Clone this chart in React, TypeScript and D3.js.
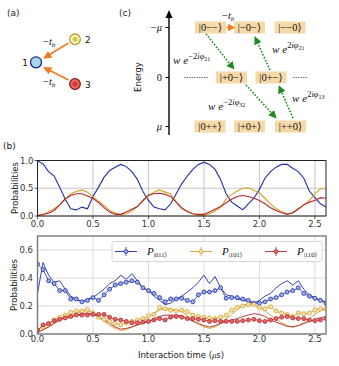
import React from "react";
import * as d3 from "d3";

const TIME = [0,0.05,0.1,0.15,0.2,0.25,0.3,0.35,0.4,0.45,0.5,0.55,0.6,0.65,0.7,0.75,0.8,0.85,0.9,0.95,1.0,1.05,1.1,1.15,1.2,1.25,1.3,1.35,1.4,1.45,1.5,1.55,1.6,1.65,1.7,1.75,1.8,1.85,1.9,1.95,2.0,2.05,2.1,2.15,2.2,2.25,2.3,2.35,2.4,2.45,2.5,2.55,2.6];

// Top panel: ideal simulation
const TOP_011 = [0.99,0.94,0.80,0.72,0.52,0.30,0.13,0.11,0.16,0.13,0.35,0.52,0.70,0.82,0.88,0.93,0.89,0.80,0.66,0.44,0.28,0.16,0.13,0.11,0.22,0.40,0.58,0.72,0.84,0.93,0.97,0.93,0.84,0.66,0.40,0.25,0.18,0.11,0.22,0.32,0.48,0.68,0.80,0.88,0.93,0.93,0.86,0.80,0.68,0.45,0.33,0.22,0.16];
const TOP_101 = [0.02,0.02,0.08,0.13,0.20,0.30,0.40,0.44,0.47,0.43,0.35,0.26,0.19,0.10,0.06,0.02,0.04,0.09,0.17,0.27,0.36,0.43,0.47,0.43,0.40,0.25,0.15,0.08,0.04,0.01,0.01,0.04,0.09,0.15,0.31,0.39,0.45,0.50,0.51,0.46,0.42,0.32,0.22,0.13,0.08,0.04,0.05,0.12,0.20,0.28,0.40,0.49,0.49];
const TOP_110 = [0.00,0.03,0.05,0.10,0.20,0.31,0.37,0.40,0.40,0.36,0.32,0.24,0.15,0.07,0.03,0.03,0.07,0.12,0.17,0.28,0.38,0.40,0.41,0.39,0.35,0.25,0.14,0.08,0.04,0.03,0.03,0.07,0.12,0.17,0.24,0.30,0.35,0.37,0.35,0.32,0.28,0.22,0.15,0.10,0.06,0.03,0.06,0.13,0.20,0.25,0.28,0.33,0.32];

// Bottom panel: noisy simulation (lines) and experiment (markers)
const SIM_011 = [0.29,0.51,0.42,0.37,0.38,0.32,0.27,0.25,0.23,0.25,0.26,0.29,0.32,0.36,0.38,0.42,0.39,0.43,0.38,0.33,0.31,0.27,0.24,0.21,0.22,0.25,0.27,0.30,0.33,0.37,0.42,0.36,0.41,0.33,0.28,0.27,0.25,0.24,0.23,0.22,0.24,0.27,0.29,0.33,0.36,0.38,0.35,0.38,0.32,0.28,0.26,0.24,0.23];
const SIM_101 = [0.01,0.03,0.05,0.08,0.10,0.12,0.14,0.15,0.16,0.17,0.15,0.12,0.09,0.06,0.04,0.025,0.03,0.05,0.07,0.09,0.12,0.15,0.17,0.18,0.18,0.17,0.16,0.13,0.10,0.07,0.05,0.04,0.05,0.08,0.11,0.14,0.175,0.205,0.215,0.21,0.19,0.165,0.135,0.11,0.08,0.06,0.05,0.06,0.08,0.11,0.14,0.165,0.18];
const SIM_110 = [0.01,0.03,0.05,0.075,0.10,0.115,0.125,0.135,0.145,0.15,0.14,0.125,0.10,0.075,0.05,0.035,0.04,0.05,0.065,0.075,0.09,0.11,0.125,0.135,0.135,0.135,0.13,0.11,0.09,0.075,0.06,0.05,0.06,0.075,0.09,0.10,0.11,0.125,0.135,0.145,0.14,0.125,0.10,0.085,0.07,0.055,0.05,0.06,0.075,0.09,0.105,0.115,0.125];
const EXP_011 = [0.50,0.46,0.38,0.36,0.31,0.31,0.25,0.25,0.23,0.24,0.26,0.24,0.28,0.32,0.35,0.36,0.37,0.38,0.37,0.33,0.31,0.29,0.26,0.23,0.25,0.25,0.255,0.24,0.23,0.28,0.30,0.30,0.31,0.33,0.255,0.26,0.26,0.25,0.24,0.22,0.22,0.23,0.25,0.26,0.28,0.30,0.31,0.33,0.29,0.27,0.255,0.24,0.22];
const EXP_101 = [0.03,0.05,0.07,0.10,0.12,0.135,0.155,0.165,0.165,0.175,0.15,0.12,0.105,0.09,0.075,0.065,0.08,0.09,0.10,0.11,0.13,0.14,0.19,0.18,0.17,0.165,0.17,0.16,0.135,0.125,0.12,0.115,0.11,0.12,0.135,0.17,0.19,0.20,0.21,0.21,0.19,0.18,0.195,0.165,0.15,0.14,0.125,0.15,0.145,0.15,0.17,0.18,0.18];
const EXP_110 = [0.025,0.065,0.075,0.095,0.105,0.115,0.125,0.135,0.135,0.135,0.14,0.14,0.14,0.12,0.105,0.10,0.09,0.08,0.08,0.085,0.09,0.10,0.11,0.10,0.12,0.125,0.12,0.11,0.11,0.105,0.10,0.09,0.095,0.09,0.09,0.09,0.09,0.095,0.10,0.105,0.095,0.09,0.10,0.11,0.12,0.125,0.115,0.11,0.11,0.10,0.095,0.10,0.11];

const X_TICKS = [0, 0.5, 1.0, 1.5, 2.0, 2.5];
const TOP_Y_TICKS = [0, 0.5, 1.0];
const BOT_Y_TICKS = [0, 0.2, 0.4, 0.6];
const LEGEND_LABELS = ["|011⟩", "|101⟩", "|110⟩"];

const BLUE = "#1f2ea6";
const GOLD = "#d4a02a";
const RED = "#b5262a";
const SANS = "DejaVu Sans, sans-serif";
const SERIF = "Liberation Serif, DejaVu Serif, serif";

const x = d3.scaleLinear().domain([0, 2.6]).range([37.5, 326]);
const yTop = d3.scaleLinear().domain([0, 1]).range([216, 160.5]);
const yBot = d3.scaleLinear().domain([0, 0.7]).range([334, 236]);

function WExp({ x0, y0, sign, idx }: { x0: number; y0: number; sign: string; idx: string }) {
  return (
    <text x={x0} y={y0} fontFamily={SERIF} fontSize={11} fill="#111">
      <tspan fontStyle="italic">w</tspan>
      <tspan fontStyle="italic" dx={3}>e</tspan>
      <tspan fontSize={8.5} dy={-5}>{sign}2<tspan fontStyle="italic">iφ</tspan></tspan>
      <tspan fontSize={6} dy={1.8}>{idx}</tspan>
    </text>
  );
}

function Ket({ cx, cy, label }: { cx: number; cy: number; label: string }) {
  return (
    <g>
      <rect x={cx - 15.5} y={cy - 6} width={31} height={12} fill="#f5d9a8" />
      <text x={cx} y={cy + 3.5} textAnchor="middle" fontFamily={SERIF} fontSize={10.5} fill="#111">{label}</text>
    </g>
  );
}

export default function App() {
  const line = (ys: number[], yScale: d3.ScaleLinear<number, number>) =>
    d3.line<number>().x((_, i) => x(TIME[i])).y((d) => yScale(d))(ys) || "";

  const topSeries = [
    { d: TOP_011, c: BLUE },
    { d: TOP_101, c: GOLD },
    { d: TOP_110, c: RED },
  ];
  const simSeries = [
    { d: SIM_011, c: BLUE },
    { d: SIM_101, c: GOLD },
    { d: SIM_110, c: RED },
  ];
  const expSeries = [
    { d: EXP_011, c: BLUE, f: "#9aaee6" },
    { d: EXP_101, c: GOLD, f: "#f6e6b8" },
    { d: EXP_110, c: RED, f: "#e06a6a" },
  ];

  const greenArrows = [
    [206, 34, 234, 69],
    [246, 85, 276, 118],
    [293, 118, 279, 86],
    [270, 70, 255, 37],
  ];

  return (
    <svg width={339} height={366} style={{ position: "absolute", left: 0, top: 0, background: "#fff" }}>
      <defs>
        <marker id="arrO" viewBox="0 0 10 10" refX="9" refY="5" markerWidth="5" markerHeight="5" orient="auto">
          <path d="M0,0 L10,5 L0,10 z" fill="#f47a20" />
        </marker>
        <marker id="arrG" viewBox="0 0 10 10" refX="9" refY="5" markerWidth="5" markerHeight="5" orient="auto">
          <path d="M0,0 L10,5 L0,10 z" fill="#1f8a1f" />
        </marker>
        <clipPath id="clipTop"><rect x={37.5} y={160.5} width={288.5} height={55.5} /></clipPath>
        <clipPath id="clipBot"><rect x={37.5} y={236} width={288.5} height={98} /></clipPath>
      </defs>

      {/* panel labels */}
      <text x={7} y={16} fontFamily={SANS} fontSize={9} fill="#222">(a)</text>
      <text x={119} y={16} fontFamily={SANS} fontSize={9} fill="#222">(c)</text>
      <text x={3} y={149} fontFamily={SANS} fontSize={9} fill="#222">(b)</text>

      {/* panel (a) */}
      <line x1={68.5} y1={43} x2={44} y2={58} stroke="#f47a20" strokeWidth={1.6} markerEnd="url(#arrO)" />
      <line x1={68.5} y1={80} x2={44} y2={67.5} stroke="#f47a20" strokeWidth={1.6} markerEnd="url(#arrO)" />
      <circle cx={36} cy={62.3} r={5.5} fill="#a9d6ea" stroke="#1a2a8a" strokeWidth={1.3} />
      <circle cx={75} cy={39.3} r={5.3} fill="#fbf3cf" stroke="#c99a22" strokeWidth={1.3} />
      <circle cx={75} cy={39.3} r={2.5} fill="#c6d23a" />
      <circle cx={75} cy={84} r={5.3} fill="#ea6a66" stroke="#8a1a1a" strokeWidth={1.3} />
      <circle cx={75} cy={84} r={2.6} fill="#d43a36" />
      <text x={28} y={65.5} textAnchor="end" fontFamily={SANS} fontSize={9} fill="#111">1</text>
      <text x={85} y={42.5} fontFamily={SANS} fontSize={9} fill="#111">2</text>
      <text x={85} y={87.5} fontFamily={SANS} fontSize={9} fill="#111">3</text>
      <text x={43} y={45} fontFamily={SERIF} fontSize={10.5} fill="#111">−<tspan fontStyle="italic">t</tspan><tspan fontSize={7} dy={2} fontStyle="italic">b</tspan></text>
      <text x={43} y={85} fontFamily={SERIF} fontSize={10.5} fill="#111">−<tspan fontStyle="italic">t</tspan><tspan fontSize={7} dy={2} fontStyle="italic">b</tspan></text>

      {/* panel (c) */}
      <line x1={169} y1={135} x2={169} y2={16} stroke="#000" strokeWidth={1.4} />
      <path d="M165.5,18 L169,10 L172.5,18 z" fill="#000" />
      {[27.5, 77.5, 126.5].map((yy, i) => (
        <line key={i} x1={165.5} x2={169} y1={yy} y2={yy} stroke="#000" strokeWidth={1} />
      ))}
      <text x={162} y={31} textAnchor="end" fontFamily={SERIF} fontSize={10.5} fill="#111">−<tspan fontStyle="italic">μ</tspan></text>
      <text x={162} y={81} textAnchor="end" fontFamily={SERIF} fontSize={10.5} fill="#111">0</text>
      <text x={162} y={130} textAnchor="end" fontFamily={SERIF} fontSize={10.5} fill="#111" fontStyle="italic">μ</text>
      <text transform="translate(141,77) rotate(-90)" textAnchor="middle" fontFamily={SANS} fontSize={8.5} fill="#111">Energy</text>

      <line x1={184} x2={208} y1={77.5} y2={77.5} stroke="#555" strokeWidth={0.8} strokeDasharray="1.5,1" />
      <line x1={293} x2={308} y1={77.5} y2={77.5} stroke="#555" strokeWidth={0.8} strokeDasharray="1.5,1" />

      <Ket cx={210.5} cy={27.5} label="|0−−⟩" />
      <Ket cx={249.5} cy={27.5} label="|−0−⟩" />
      <Ket cx={290} cy={27.5} label="|−−0⟩" />
      <Ket cx={231.5} cy={77.5} label="|+0−⟩" />
      <Ket cx={271} cy={77.5} label="|0+−⟩" />
      <Ket cx={210} cy={126.5} label="|0++⟩" />
      <Ket cx={249.5} cy={126.5} label="|+0+⟩" />
      <Ket cx={290.5} cy={126.5} label="|++0⟩" />

      <line x1={226.5} y1={27.5} x2={234.5} y2={27.5} stroke="#f47a20" strokeWidth={1.5} markerEnd="url(#arrO)" />
      <text x={222} y={18.5} fontFamily={SERIF} fontSize={10.5} fill="#111">−<tspan fontStyle="italic">t</tspan><tspan fontSize={7} dy={2} fontStyle="italic">b</tspan></text>

      {greenArrows.map((a, i) => (
        <line key={i} x1={a[0]} y1={a[1]} x2={a[2]} y2={a[3]} stroke="#1f8a1f" strokeWidth={1.6} strokeDasharray="1.6,1.6" markerEnd="url(#arrG)" />
      ))}
      <WExp x0={173} y0={64} sign="−" idx="21" />
      <WExp x0={272} y0={53} sign="" idx="21" />
      <WExp x0={208} y0={110} sign="−" idx="32" />
      <WExp x0={292} y0={102} sign="" idx="13" />

      {/* panel (b) top */}
      {X_TICKS.map((t) => (
        <line key={"tg" + t} x1={x(t)} x2={x(t)} y1={160.5} y2={216} stroke="#b8b8b8" strokeWidth={0.8} />
      ))}
      {TOP_Y_TICKS.map((v) => (
        <line key={"th" + v} x1={37.5} x2={326} y1={yTop(v)} y2={yTop(v)} stroke="#b8b8b8" strokeWidth={0.8} />
      ))}
      <g clipPath="url(#clipTop)">
        {topSeries.map((s, i) => (
          <path key={i} d={line(s.d, yTop)} fill="none" stroke={s.c} strokeWidth={1.1} />
        ))}
      </g>
      <rect x={37.5} y={160.5} width={288.5} height={55.5} fill="none" stroke="#222" strokeWidth={1} />
      {X_TICKS.map((t) => (
        <g key={"tx" + t}>
          <line x1={x(t)} x2={x(t)} y1={216} y2={219} stroke="#333" strokeWidth={0.8} />
          <text x={x(t)} y={226.5} textAnchor="middle" fontFamily={SANS} fontSize={8.5} fill="#333">{t.toFixed(1)}</text>
        </g>
      ))}
      {TOP_Y_TICKS.map((v) => (
        <g key={"ty" + v}>
          <line x1={34.5} x2={37.5} y1={yTop(v)} y2={yTop(v)} stroke="#333" strokeWidth={0.8} />
          <text x={33.5} y={yTop(v) + 3} textAnchor="end" fontFamily={SANS} fontSize={8.5} fill="#333">{v.toFixed(1)}</text>
        </g>
      ))}
      <text transform="translate(18,188) rotate(-90)" textAnchor="middle" fontFamily={SANS} fontSize={8.5} fill="#222">Probabilities</text>

      {/* panel (b) bottom */}
      {X_TICKS.map((t) => (
        <line key={"bg" + t} x1={x(t)} x2={x(t)} y1={236} y2={334} stroke="#d4d4d4" strokeWidth={0.8} />
      ))}
      {BOT_Y_TICKS.map((v) => (
        <line key={"bh" + v} x1={37.5} x2={326} y1={yBot(v)} y2={yBot(v)} stroke="#d4d4d4" strokeWidth={0.8} />
      ))}
      <g clipPath="url(#clipBot)">
        {simSeries.map((s, i) => (
          <path key={i} d={line(s.d, yBot)} fill="none" stroke={s.c} strokeWidth={0.9} />
        ))}
        {expSeries.map((s, i) => (
          <g key={i}>
            <path d={line(s.d, yBot)} fill="none" stroke={s.c} strokeWidth={0.8} />
            {s.d.map((v, j) => (
              <circle key={j} cx={x(TIME[j])} cy={yBot(v)} r={2} fill={s.f} stroke={s.c} strokeWidth={0.8} />
            ))}
          </g>
        ))}
      </g>
      <rect x={37.5} y={236} width={288.5} height={98} fill="none" stroke="#7a7a7a" strokeWidth={1.4} />
      {X_TICKS.map((t) => (
        <text key={"bx" + t} x={x(t)} y={342} textAnchor="middle" fontFamily={SANS} fontSize={8.5} fill="#333">{t.toFixed(1)}</text>
      ))}
      {BOT_Y_TICKS.map((v) => (
        <text key={"by" + v} x={33} y={yBot(v) + 2.5} textAnchor="end" fontFamily={SANS} fontSize={8.5} fill="#333">{v.toFixed(1)}</text>
      ))}
      <text transform="translate(17,285) rotate(-90)" textAnchor="middle" fontFamily={SANS} fontSize={8.5} fill="#222">Probabilities</text>
      <text x={181} y={358} textAnchor="middle" fontFamily={SANS} fontSize={8.5} fill="#222">Interaction time (<tspan fontFamily={SERIF} fontStyle="italic">μ</tspan>s)</text>

      {/* legend */}
      <rect x={112} y={241.5} width={210} height={20} rx={2} fill="#fff" fillOpacity={0.85} stroke="#cccccc" strokeWidth={0.8} />
      {expSeries.map((s, i) => {
        const lx = [115, 190, 265][i];
        return (
          <g key={"lg" + i}>
            <line x1={lx} x2={lx + 22} y1={251.5} y2={251.5} stroke={s.c} strokeWidth={0.9} />
            <line x1={lx + 11} x2={lx + 11} y1={247} y2={256} stroke={s.c} strokeWidth={0.8} />
            <circle cx={lx + 11} cy={251.5} r={2} fill={s.f} stroke={s.c} strokeWidth={0.8} />
            <text x={lx + 32} y={255} fontFamily={SERIF} fontSize={11} fill="#111">
              <tspan fontStyle="italic">P</tspan>
              <tspan fontSize={6.5} dy={2}>{LEGEND_LABELS[i]}</tspan>
            </text>
          </g>
        );
      })}
    </svg>
  );
}
